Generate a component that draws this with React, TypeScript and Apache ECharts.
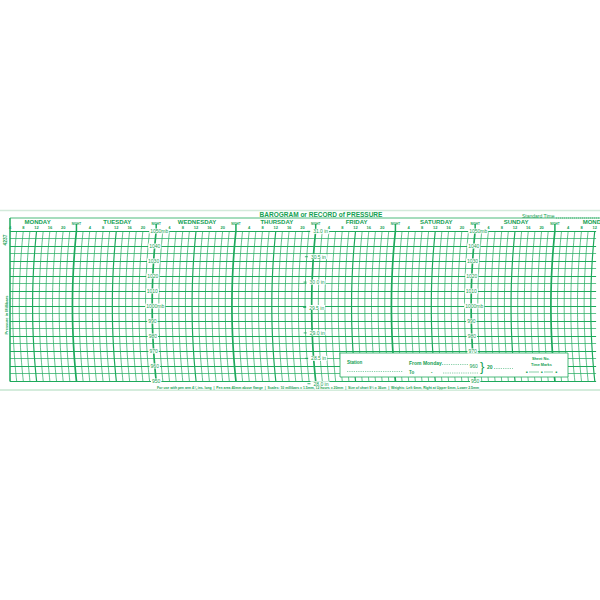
import React, { useEffect, useRef } from 'react';
import * as echarts from 'echarts';

// ---------- data ----------
const DAY_NAMES = ['MONDAY', 'TUESDAY', 'WEDNESDAY', 'THURSDAY', 'FRIDAY', 'SATURDAY', 'SUNDAY', 'MONDAY'];
const DAY_NOON_HOURS = [12, 36, 60, 84, 108, 132, 156, 180];
const NIGHT_HOURS = [24, 48, 72, 96, 120, 144, 168];
const HOUR_MIN = 4;
const HOUR_MAX = 180.4;
const MB_MIN = 950;
const MB_MAX = 1050;
const MB_LABEL_VALUES = [1050, 1040, 1030, 1020, 1010, 1000, 990, 980, 970, 960, 950];
const MB_LABEL_TEXTS = ['1050mb', '1040', '1030', '1020', '1010', '1000mb', '990', '980', '970', '960', '950'];
const MB_SCALE_HOURS = [48, 144];
const INCH_VALUES = [31.0, 30.5, 30.0, 29.5, 29.0, 28.5, 28.0];
const INCH_TEXTS = ['31.0 in', '30.5 in', '30.0 in', '29.5 in', '29.0 in', '28.5 in', '28.0 in'];
const INCH_SCALE_HOURS = [96];
const MB_PER_INCH = 33.8639;

// grid rulings: every 2 hours
const GRID_HOURS: number[] = [];
for (let h = 4; h <= 180; h += 2) GRID_HOURS.push(h);

const GREEN = '#13a052';
const LINE = '#1ea95c';
const FONT = '"Liberation Sans", Arial, sans-serif';
const SAG = 4; // pen-arc bulge in px

function curvePoint(api: any, t: number, mb: number) {
  const top = api.coord([t, MB_MAX]);
  const bot = api.coord([t, MB_MIN]);
  const p = api.coord([t, mb]);
  const half = (bot[1] - top[1]) / 2;
  const yc = (top[1] + bot[1]) / 2;
  const R = (half * half + SAG * SAG) / (2 * SAG);
  const dy = p[1] - yc;
  return [top[0] + (R - Math.sqrt(Math.max(0, R * R - dy * dy))) - SAG, p[1]];
}

function txt(text: string, x: number, y: number, size: number, opts: any = {}) {
  const align = opts.align || 'left';
  return {
    type: 'text',
    z: opts.z ?? 21,
    x: opts.rx ?? 0,
    y: opts.ry ?? 0,
    rotation: opts.rotation ?? 0,
    style: {
      text,
      x,
      y,
      fill: opts.fill || GREEN,
      font: `${opts.bold ? 'bold ' : ''}${size}px ${FONT}`,
      align,
      textAlign: align,
      verticalAlign: 'middle',
      textVerticalAlign: 'middle',
      backgroundColor: opts.bg,
    },
  };
}

function hline(x1: number, x2: number, y: number, w: number, color: string, dash?: number[], z = 21) {
  return {
    type: 'line',
    z,
    shape: { x1, y1: y, x2, y2: y },
    style: { stroke: color, lineWidth: w, lineDash: dash },
  };
}

export default function App() {
  const ref = useRef<HTMLDivElement>(null);

  useEffect(() => {
    if (!ref.current) return;
    const chart = echarts.init(ref.current, undefined, { renderer: 'svg' });

    const option: any = {
      animation: false,
      backgroundColor: '#ffffff',
      grid: { left: 10, right: 0, top: 231, bottom: 219 },
      xAxis: {
        type: 'value',
        min: HOUR_MIN,
        max: HOUR_MAX,
        interval: 4,
        position: 'top',
        axisLine: { show: false },
        axisTick: { show: false },
        splitLine: { show: false },
        axisLabel: {
          show: true,
          margin: 2,
          color: GREEN,
          fontSize: 4,
          fontWeight: 'bold',
          fontFamily: FONT,
          showMinLabel: true,
          showMaxLabel: false,
          formatter: (v: number) => {
            if (Math.abs(v % 4) > 1e-6) return '';
            const h = v % 24;
            return h === 0 ? '{n|NIGHT}' : String(h);
          },
          rich: {
            n: { fontSize: 3, fontWeight: 'bold', color: GREEN, fontFamily: FONT, padding: [0, 0, 4, 0] },
          },
        },
      },
      yAxis: {
        type: 'value',
        min: MB_MIN,
        max: MB_MAX,
        interval: 10,
        axisLine: { show: false },
        axisTick: { show: false },
        axisLabel: { show: false },
        splitLine: { show: true, lineStyle: { color: LINE, width: 1.1 } },
        minorTick: { show: false, splitNumber: 2 },
        minorSplitLine: { show: true, lineStyle: { color: LINE, width: 0.7 } },
      },
      series: [
        {
          type: 'custom',
          name: 'time rulings',
          coordinateSystem: 'cartesian2d',
          clip: true,
          silent: true,
          z: 3,
          data: GRID_HOURS.map((h) => [h, MB_MIN]),
          renderItem: (_p: any, api: any) => {
            const t = api.value(0);
            const pts: number[][] = [];
            for (let i = 0; i <= 40; i++) {
              const mb = MB_MAX - ((MB_MAX - MB_MIN) * i) / 40;
              pts.push(curvePoint(api, t, mb));
            }
            const w = t % 24 === 0 ? 1.7 : t % 12 === 0 ? 1.2 : 0.7;
            return { type: 'polyline', shape: { points: pts }, style: { stroke: LINE, lineWidth: w, fill: null } };
          },
        },
        {
          type: 'custom',
          name: 'night ticks',
          coordinateSystem: 'cartesian2d',
          clip: false,
          silent: true,
          z: 3,
          data: NIGHT_HOURS.map((h) => [h, MB_MAX]),
          renderItem: (_p: any, api: any) => {
            const c = api.coord([api.value(0), MB_MAX]);
            return {
              type: 'line',
              shape: { x1: c[0], y1: c[1] - 7, x2: c[0], y2: c[1] },
              style: { stroke: LINE, lineWidth: 1.5 },
            };
          },
        },
        {
          type: 'custom',
          name: 'days',
          coordinateSystem: 'cartesian2d',
          clip: false,
          silent: true,
          z: 6,
          data: DAY_NOON_HOURS.map((h, i) => [h, MB_MAX, i]),
          renderItem: (_p: any, api: any) => {
            const c = api.coord([api.value(0), MB_MAX]);
            return {
              type: 'text',
              style: {
                text: DAY_NAMES[api.value(2)],
                x: c[0] + 1,
                y: c[1] - 9,
                fill: GREEN,
                font: `bold 6px ${FONT}`,
                align: 'center',
                textAlign: 'center',
                verticalAlign: 'middle',
                textVerticalAlign: 'middle',
              },
            };
          },
        },
        {
          type: 'custom',
          name: 'mb scale',
          coordinateSystem: 'cartesian2d',
          clip: false,
          silent: true,
          z: 30,
          data: MB_SCALE_HOURS.flatMap((h) => MB_LABEL_VALUES.map((v, i) => [h, v, i])),
          renderItem: (_p: any, api: any) => {
            const t = api.value(0);
            const v = api.value(1);
            const i = api.value(2);
            const c = curvePoint(api, t, v);
            const text = MB_LABEL_TEXTS[i];
            const hasUnit = text.indexOf('mb') >= 0;
            return {
              type: 'text',
              z2: 10,
              style: {
                text,
                x: hasUnit ? c[0] - 7 : c[0],
                y: c[1],
                fill: GREEN,
                font: `5px ${FONT}`,
                align: hasUnit ? 'left' : 'center',
                textAlign: hasUnit ? 'left' : 'center',
                verticalAlign: 'middle',
                textVerticalAlign: 'middle',
                backgroundColor: '#ffffff',
                padding: [0, 1, 0, 1],
              },
            };
          },
        },
        {
          type: 'custom',
          name: 'inch scale',
          coordinateSystem: 'cartesian2d',
          clip: false,
          silent: true,
          z: 30,
          data: INCH_SCALE_HOURS.flatMap((h) => INCH_VALUES.map((v, i) => [h, v * MB_PER_INCH, i])),
          renderItem: (_p: any, api: any) => {
            const t = api.value(0);
            const v = api.value(1);
            const i = api.value(2);
            const c = curvePoint(api, t, v);
            return {
              type: 'group',
              children: [
                {
                  type: 'text',
                  style: {
                    text: INCH_TEXTS[i],
                    x: c[0] - 5.5,
                    y: c[1],
                    fill: GREEN,
                    font: `5px ${FONT}`,
                    align: 'left',
                    textAlign: 'left',
                    verticalAlign: 'middle',
                    textVerticalAlign: 'middle',
                    backgroundColor: '#ffffff',
                    padding: [0, 1, 0, 3],
                  },
                },
                {
                  type: 'line',
                  shape: { x1: c[0] - 8.5, y1: c[1], x2: c[0] - 5.5, y2: c[1] },
                  style: { stroke: GREEN, lineWidth: 0.8 },
                },
              ],
            };
          },
        },
      ],
      graphic: [
        // paper edges / frame
        hline(0, 600, 210.5, 1.4, '#d3eadb', undefined, 1),
        hline(10, 600, 218, 0.8, LINE, undefined, 20),
        { type: 'line', z: 20, shape: { x1: 10, y1: 218, x2: 10, y2: 381.5 }, style: { stroke: LINE, lineWidth: 1.5 } },
        hline(0, 600, 390, 1.3, '#c6e6d1', undefined, 1),
        // header texts
        txt('BAROGRAM or RECORD of PRESSURE', 321, 214.5, 6.5, { bold: true, align: 'center' }),
        txt('Standard Time', 522, 216, 5, {}),
        hline(556, 600, 218, 0.6, GREEN, [1, 1]),
        // side texts
        { ...txt('4237', 0, 0, 5, { bold: true, align: 'center', rotation: Math.PI / 2, rx: 5, ry: 240 }) },
        { ...txt('Pressure in Millibars', 0, 0, 4, { bold: true, align: 'center', rotation: Math.PI / 2, rx: 6, ry: 315 }) },
        // info box
        {
          type: 'rect',
          z: 20,
          shape: { x: 340, y: 353, width: 228, height: 24 },
          style: { fill: '#ffffff', stroke: LINE, lineWidth: 0.8 },
        },
        txt('Station', 347, 362, 4.5, { bold: true }),
        hline(347, 403, 371.5, 0.6, GREEN, [0.8, 1]),
        txt('From Monday', 409, 363, 5, { bold: true }),
        hline(442, 478, 364.5, 0.6, GREEN, [0.8, 1]),
        txt('To', 409, 372, 4.5, { bold: true }),
        txt('•', 431, 372, 4, {}),
        hline(443, 478, 373, 0.6, GREEN, [0.8, 1]),
        txt('}', 480, 366.5, 13, {}),
        txt('20', 487, 367, 5, { bold: true }),
        hline(494, 513, 368.5, 0.6, GREEN, [0.8, 1]),
        txt('Sheet No.', 532, 359, 3.8, { bold: true }),
        txt('Time Marks', 531, 364.5, 3.8, { bold: true }),
        txt('■', 526, 372, 3, {}),
        hline(529, 539, 372, 0.5, GREEN),
        txt('■', 541, 372, 3, {}),
        hline(544, 553, 372, 0.5, GREEN),
        txt('■', 555.5, 372, 3, {}),
        // bottom note
        txt(
          'For use with pen arm 4⅝ ins. long  |  Pen area 40mm above flange  |  Scales: 10 millibars = 1.5mm, 12 hours = 20mm  |  Size of chart 9¼ x 36cm  |  Weights: Left 6mm, Right at Upper 6mm, Lower 2.5mm',
          318,
          388,
          3.4,
          { bold: true, align: 'center', bg: '#ffffff' }
        ),
      ],
    };

    chart.setOption(option);
    return () => chart.dispose();
  }, []);

  return (
    <div
      ref={ref}
      style={{ position: 'fixed', left: 0, top: 0, width: 600, height: 600, background: '#ffffff' }}
    />
  );
}
